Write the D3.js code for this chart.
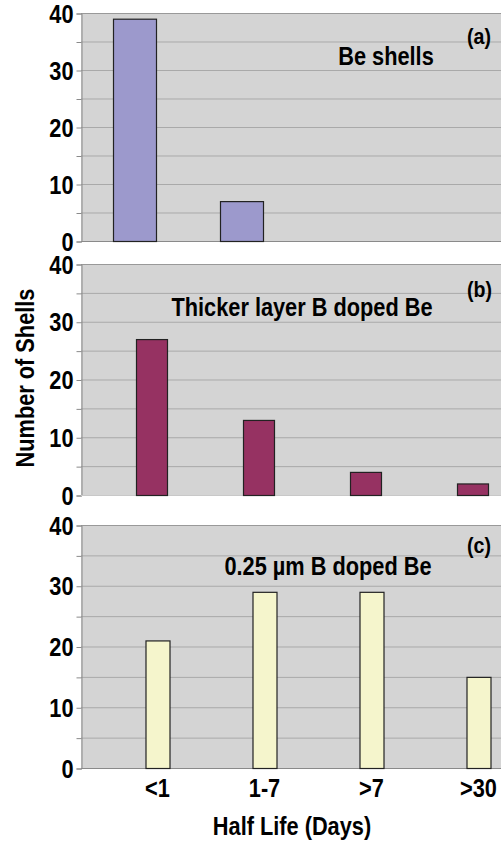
<!DOCTYPE html>
<meta charset="utf-8">
<head>
    <script src="https://d3js.org/d3.v7.min.js"></script>
</head>
<style>
    body { margin: 0; background: #fff; }
    .lbl {
        font-family: 'Liberation Sans', Arial, sans-serif;
        font-weight: bold;
        fill: #000;
    }
</style>
<div id="my_dataviz"></div>
<script>

    // data
    var categories = ["<1", "1-7", ">7", ">30"];
    var valuesA = [39, 7, 0, 0];
    var valuesB = [27, 13, 4, 2];
    var valuesC = [21, 29, 29, 15];
    var titles = ["Be shells", "Thicker layer B doped Be", "0.25 \u00b5m B doped Be"];
    var tags = ["(a)", "(b)", "(c)"];
    var yTicks = [0, 5, 10, 15, 20, 25, 30, 35, 40];

    // layout of the three stacked panels
    var width = 501, height = 845;
    var plotLeft = 81;
    var panels = [
        {values: valuesA, top: 13,  bottom: 241, x0: 81,  barW: 43, color: "#9c99cc", titleX: 386, titleY: 65,  tagY: 44},
        {values: valuesB, top: 264, bottom: 495, x0: 98,  barW: 31, color: "#963262", titleX: 302, titleY: 316, tagY: 297},
        {values: valuesC, top: 525, bottom: 768, x0: 104, barW: 24, color: "#f5f5cc", titleX: 328, titleY: 575, tagY: 553}
    ];
    var step = 107;
    var fontSize = 25;
    var squeeze = 0.87;   // condensed look of the original font

    var svg = d3.select("#my_dataviz")
        .append("svg")
        .attr("width", width)
        .attr("height", height);

    // condensed bold text
    function label(x, y, txt, size, anchor, rotate) {
        var t = "translate(" + x + "," + y + ")" + (rotate ? " rotate(-90)" : "") + " scale(" + squeeze + ",1)";
        return svg.append("text")
            .attr("class", "lbl")
            .attr("transform", t)
            .attr("text-anchor", anchor)
            .style("font-size", size + "px")
            .text(txt);
    }

    var lastX;

    panels.forEach(function(p, i) {
        var x = d3.scaleBand()
            .domain(categories)
            .range([p.x0, p.x0 + step * categories.length]);
        var y = d3.scaleLinear()
            .domain([0, 40])
            .range([p.bottom, p.top]);
        lastX = x;

        var g = svg.append("g");

        // plot background
        g.append("rect")
            .attr("x", plotLeft)
            .attr("y", p.top)
            .attr("width", width - plotLeft)
            .attr("height", p.bottom - p.top)
            .attr("fill", "#d4d4d4");

        // gridlines
        g.selectAll(".grid")
            .data(yTicks.filter(function(d) { return d > 0; }))
            .enter()
            .append("line")
            .attr("x1", plotLeft)
            .attr("x2", width)
            .attr("y1", function(d) { return y(d) + 0.5; })
            .attr("y2", function(d) { return y(d) + 0.5; })
            .attr("stroke", function(d) { return d === 40 ? "#999" : "#a9a9a9"; })
            .attr("stroke-width", 1);

        // y axis with ticks every 5, labels every 10
        var axis = g.append("g")
            .attr("transform", "translate(" + (plotLeft + 0.5) + ",0.5)")
            .call(d3.axisLeft(y).tickValues(yTicks).tickSize(5).tickPadding(3)
                .tickFormat(function(d) { return d % 10 === 0 ? d : ""; }));
        axis.select(".domain").attr("stroke", "#8a8a8a");
        axis.selectAll(".tick line").attr("stroke", "#8a8a8a");
        axis.selectAll(".tick text")
            .attr("class", "lbl")
            .attr("fill", "#000")
            .attr("dy", "0.34em")
            .attr("transform", "scale(" + squeeze + ",1)")
            .attr("x", -8 / squeeze)
            .style("font-family", "'Liberation Sans', Arial, sans-serif")
            .style("font-size", fontSize + "px");

        // baseline
        g.append("line")
            .attr("x1", plotLeft)
            .attr("x2", width)
            .attr("y1", p.bottom + 0.5)
            .attr("y2", p.bottom + 0.5)
            .attr("stroke", i === 1 ? "#c8c8c8" : "#8a8a8a");

        // bars
        g.selectAll(".bar")
            .data(p.values.map(function(v, k) { return {cat: categories[k], v: v}; })
                .filter(function(d) { return d.v > 0; }))
            .enter()
            .append("rect")
            .attr("x", function(d) { return x(d.cat) + x.bandwidth() / 2 - p.barW / 2 + 0.5; })
            .attr("y", function(d) { return y(d.v) + 0.5; })
            .attr("width", p.barW)
            .attr("height", function(d) { return p.bottom - y(d.v); })
            .attr("fill", p.color)
            .attr("stroke", "#222")
            .attr("stroke-width", 1.2);

        label(p.titleX, p.titleY, titles[i], fontSize, "middle");
        label(467, p.tagY, tags[i], 22.5, "start");
    });

    // x category labels under the last panel
    categories.forEach(function(c) {
        label(lastX(c) + lastX.bandwidth() / 2, 797, c, fontSize, "middle");
    });

    // axis titles
    label(292, 835, "Half Life (Days)", fontSize, "middle");
    label(34, 378, "Number of Shells", fontSize, "middle", true);

</script>
